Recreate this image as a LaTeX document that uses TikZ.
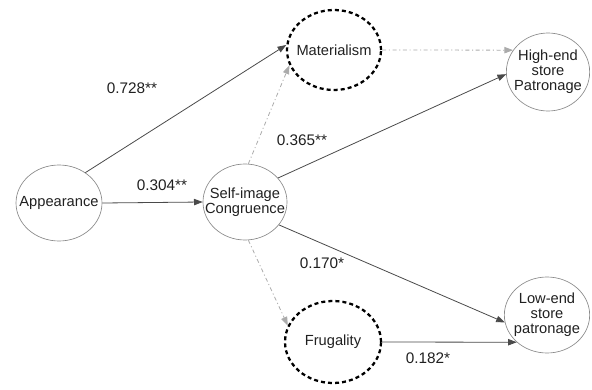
\documentclass[tikz,border=0pt]{standalone}
\usepackage{fontspec}
\setmainfont{Liberation Sans}
\usepackage{tikz}
\usetikzlibrary{arrows.meta,shapes.geometric}
\definecolor{edgec}{HTML}{4A4A4A}
\definecolor{rimc}{HTML}{8A8A8A}
\definecolor{dotc}{HTML}{ABABAB}
\definecolor{textc}{HTML}{202020}

\begin{document}
\begin{tikzpicture}[
  x=0.75pt, y=-0.75pt,
  construct/.style={ellipse, draw=rimc, line width=0.5pt, inner sep=-12pt,
    align=center, text=textc, font=\fontsize{11}{11.4}\selectfont},
  latent/.style={construct, draw=black, line width=1.7pt,
    dash pattern=on 3pt off 2.3pt},
  arr/.style={-{Triangle[length=6.5pt,width=4.8pt]}, draw=edgec, line width=0.6pt},
  dotarr/.style={-{Triangle[length=6.5pt,width=4.8pt]}, draw=dotc, line width=0.6pt,
    dash pattern=on 3pt off 2pt on 0.8pt off 2pt},
  coef/.style={text=textc, font=\fontsize{11.5}{12}\selectfont}
]
  \useasboundingbox (0,0) rectangle (592,389);

  \node[construct, minimum width=64.5pt, minimum height=57pt] (appear) at (59,203) {Appearance};
  \node[construct, minimum width=63pt, minimum height=57pt] (selfimg) at (245,202) {Self-image\\Congruence};
  \node[latent, minimum width=70.5pt, minimum height=60pt] (mater) at (334,50) {Materialism};
  \node[latent, minimum width=72pt, minimum height=61.5pt] (frugal) at (333,342) {Frugality};
  \node[construct, minimum width=62.5pt, minimum height=58.5pt] (highend) at (548,72) {High-end\\store\\Patronage};
  \node[construct, minimum width=64pt, minimum height=57pt] (lowend) at (547,315) {Low-end\\store\\patronage};

  \node[coef] (c728) at (132,88) {0.728**};
  \node[coef] (c304) at (162,185) {0.304**};
  \node[coef] (c365) at (302,140) {0.365**};
  \node[coef] (c170) at (322,263) {0.170*};
  \node[coef] (c182) at (428,358) {0.182*};

  % direct paths
  \draw[arr] (appear.49) -- (mater.174);
  \draw[arr] (appear.east) -- (selfimg.west);
  \draw[arr] (selfimg.36) -- (highend.183);
  \draw[arr] (selfimg.-34) -- (lowend.190);
  \draw[arr] (frugal.east) -- (lowend.222);

  % non-significant paths
  \draw[dotarr] (selfimg.85) -- (mater.199);
  \draw[dotarr] (selfimg.-85) -- (frugal.160);
  \draw[dotarr] (mater.east) -- (highend.148);
\end{tikzpicture}
\end{document}
